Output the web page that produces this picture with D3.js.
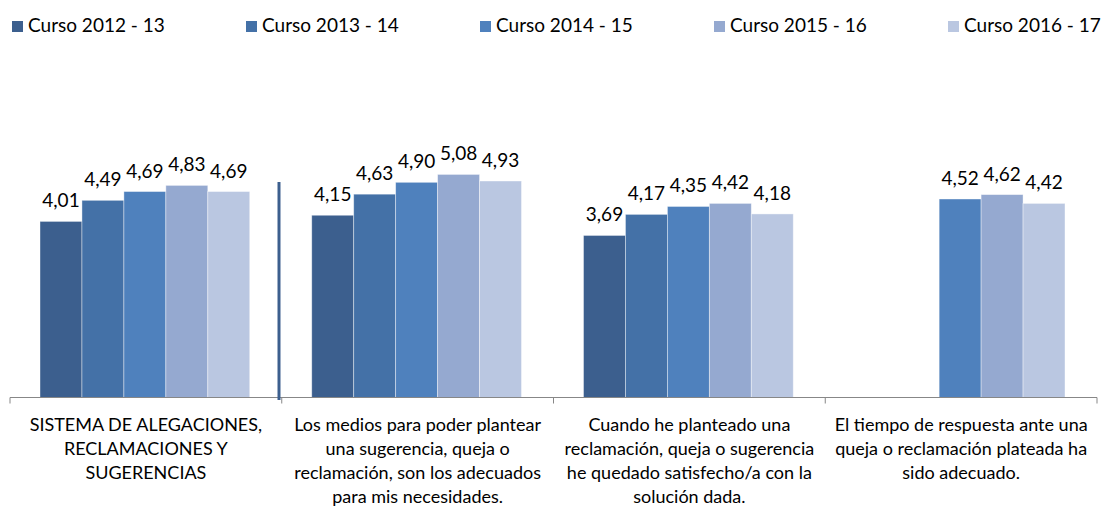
<!DOCTYPE html>
<html>
<head>
<meta charset="utf-8">
<script src="https://cdn.jsdelivr.net/npm/d3@7"></script>
<style>
  body { margin: 0; background: #fff; }
  text { font-family: Lato, "Open Sans", sans-serif; fill: #000; }
</style>
</head>
<body>
<div id="chart"></div>
<script>
// categories (axis labels, already split in lines)
var categories = [
  ['SISTEMA DE ALEGACIONES,', 'RECLAMACIONES Y', 'SUGERENCIAS'],
  ['Los medios para poder plantear', 'una sugerencia, queja o', 'reclamación, son los adecuados', 'para mis necesidades.'],
  ['Cuando he planteado una', 'reclamación, queja o sugerencia', 'he quedado satisfecho/a con la', 'solución dada.'],
  ['El tiempo de respuesta ante una', 'queja o reclamación plateada ha', 'sido adecuado.']
];

var seriesNames = ['Curso 2012 - 13', 'Curso 2013 - 14', 'Curso 2014 - 15', 'Curso 2015 - 16', 'Curso 2016 - 17'];

var curso1213 = [4.01, 4.15, 3.69, null];
var curso1314 = [4.49, 4.63, 4.17, null];
var curso1415 = [4.69, 4.90, 4.35, 4.52];
var curso1516 = [4.83, 5.08, 4.42, 4.62];
var curso1617 = [4.69, 4.93, 4.18, 4.42];

var seriesValues = [curso1213, curso1314, curso1415, curso1516, curso1617];
var colors = ['#3C5F8E', '#4471A7', '#4F81BD', '#95A9D0', '#BAC7E1'];

var width = 1104, height = 509;

var svg = d3.select('#chart')
  .append('svg')
  .attr('width', width)
  .attr('height', height);

// Scales

var x0 = d3.scaleBand()
  .domain(d3.range(categories.length))
  .range([10, 1097])
  .paddingInner(0)
  .paddingOuter(0);

var x1 = d3.scaleBand()
  .domain(d3.range(seriesNames.length))
  .range([30, x0.bandwidth() - 32])
  .padding(0);

var y = d3.scaleLinear()
  .domain([0, 6])
  .range([397.5, 134]);

// Legend

var legend = svg.selectAll('.legend')
  .data(seriesNames)
  .enter()
  .append('g')
  .attr('transform', function(d, i) {
    return 'translate(' + (12 + i * 234) + ',21)';
  });

legend.append('rect')
  .attr('width', 11)
  .attr('height', 11)
  .attr('fill', function(d, i) { return colors[i]; });

legend.append('text')
  .attr('x', 16)
  .attr('y', 11)
  .style('font-size', '19px')
  .text(function(d) { return d; });

// Bars

var groups = svg.selectAll('.serie')
  .data(seriesValues)
  .enter()
  .append('g')
  .attr('fill', function(d, i) { return colors[i]; });

groups.each(function(values, s) {
  var g = d3.select(this);
  var pts = values.map(function(v, c) { return { v: v, c: c }; })
    .filter(function(d) { return d.v !== null; });

  g.selectAll('rect')
    .data(pts)
    .enter()
    .append('rect')
    .attr('x', function(d) { return x0(d.c) + x1(s); })
    .attr('y', function(d) { return y(d.v); })
    .attr('width', x1.bandwidth())
    .attr('height', function(d) { return y(0) - y(d.v); })
    .attr('stroke', '#ffffff')
    .attr('stroke-opacity', 0.5)
    .attr('stroke-width', 0.8);

  g.selectAll('text')
    .data(pts)
    .enter()
    .append('text')
    .attr('x', function(d) { return x0(d.c) + x1(s) + x1.bandwidth() / 2; })
    .attr('y', function(d) { return y(d.v) - 14; })
    .attr('text-anchor', 'middle')
    .style('font-size', '19px')
    .text(function(d) { return d3.format('.2f')(d.v).replace('.', ','); });
});

// Axis

var axis = svg.append('g')
  .attr('transform', 'translate(0,' + y(0) + ')');

axis.append('line')
  .attr('x1', x0.range()[0])
  .attr('x2', x0.range()[1])
  .attr('stroke', '#878787')
  .attr('stroke-width', 1);

axis.selectAll('.tick')
  .data(d3.range(categories.length + 1))
  .enter()
  .append('line')
  .attr('x1', function(i) { return x0.range()[0] + i * x0.step(); })
  .attr('x2', function(i) { return x0.range()[0] + i * x0.step(); })
  .attr('y1', 0)
  .attr('y2', 6)
  .attr('stroke', '#878787');

var labels = axis.selectAll('.cat')
  .data(categories)
  .enter()
  .append('text')
  .attr('text-anchor', 'middle')
  .attr('transform', function(d, i) {
    return 'translate(' + (x0(i) + x0.bandwidth() / 2) + ',0)';
  })
  .style('font-size', '18px');

labels.selectAll('tspan')
  .data(function(d) { return d; })
  .enter()
  .append('tspan')
  .attr('x', 0)
  .attr('y', function(d, i) { return 33 + i * 24; })
  .text(function(d) { return d; });

// stray vertical line drawn in the original

svg.append('line')
  .attr('x1', 279)
  .attr('x2', 279)
  .attr('y1', 182)
  .attr('y2', 400)
  .attr('stroke', '#3C5F8E')
  .attr('stroke-width', 3);
</script>
</body>
</html>
